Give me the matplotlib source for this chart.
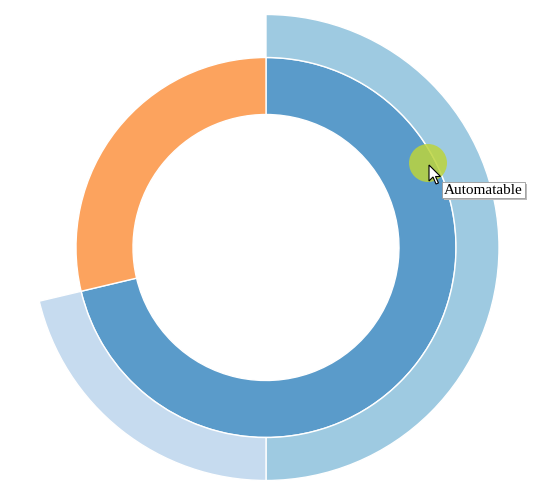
import matplotlib
matplotlib.use("Agg")
import matplotlib.pyplot as plt
from matplotlib.patches import Circle, Polygon, FancyBboxPatch

# Data (sunburst: inner ring = top-level categories, outer ring = children)
inner_labels = ["Automatable", "Other"]
inner_values = [71.3, 28.7]
inner_colors = ["#5a9bca", "#fca35e"]

outer_labels = ["Automatable A", "Automatable B", ""]
outer_values = [50.0, 21.3, 28.7]
outer_colors = ["#9ecae1", "#c6dbef", "none"]

tooltip_text = "Automatable"

W, H = 550, 498
fig = plt.figure(figsize=(W / 100, H / 100), dpi=100)
ax = fig.add_axes([0, 0, 1, 1])
ax.set_xlim(0, W)
ax.set_ylim(0, H)
ax.set_aspect("equal")
ax.axis("off")

cx, cy = 266, H - 247.5
r_hole, r_inner, r_outer = 133, 190, 233

ax.pie(inner_values, colors=inner_colors, radius=r_inner, center=(cx, cy),
       startangle=90, counterclock=False,
       wedgeprops=dict(width=r_inner - r_hole, edgecolor="white", linewidth=1))

wedges, _ = ax.pie(outer_values, colors=[c if c != "none" else "white" for c in outer_colors],
                   radius=r_outer, center=(cx, cy), startangle=90, counterclock=False,
                   wedgeprops=dict(width=r_outer - r_inner, edgecolor="white", linewidth=1))
for w, c in zip(wedges, outer_colors):
    if c == "none":
        w.set_visible(False)

ax.set_xlim(0, W)
ax.set_ylim(0, H)

# cursor highlight + pointer + tooltip
px, py = 429, H - 165
ax.add_patch(Circle((428, H - 163), 19, facecolor="#bcd43c", alpha=0.85,
                    edgecolor="none", zorder=5))
arrow = [(0, 0), (0, 16), (4, 12), (7, 19), (9.5, 18), (6.5, 11.5), (11.5, 11.5)]
ax.add_patch(Polygon([(px + dx, py - dy) for dx, dy in arrow], closed=True,
                     facecolor="white", edgecolor="black", linewidth=0.8, zorder=6))
ax.add_patch(FancyBboxPatch((444, H - 200), 83, 16, boxstyle="square,pad=0",
                            facecolor="#bbbbbb", edgecolor="none", zorder=6))
ax.add_patch(FancyBboxPatch((442, H - 198), 83, 16, boxstyle="square,pad=0",
                            facecolor="white", edgecolor="#999999", linewidth=0.6, zorder=7))
ax.text(483.5, H - 190.5, tooltip_text, ha="center", va="center",
        fontsize=11, family="Liberation Serif", color="black", zorder=8)

fig.savefig("out.png", dpi=100)
